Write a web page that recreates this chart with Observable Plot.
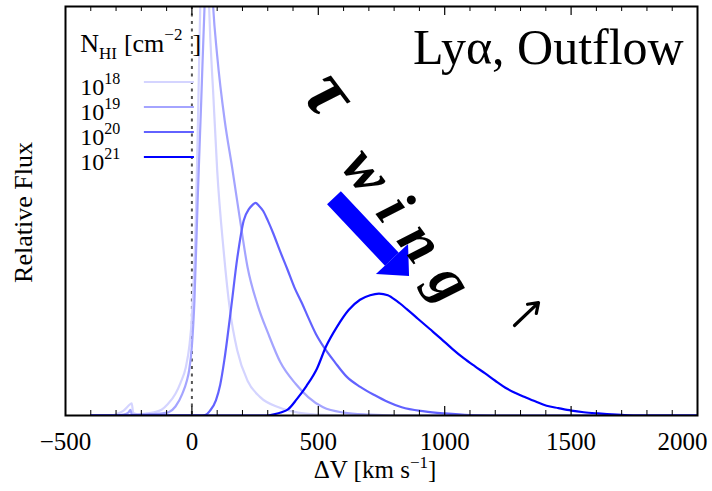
<!DOCTYPE html>
<html><head><meta charset="utf-8">
<script src="https://cdn.jsdelivr.net/npm/d3@7"></script>
<script src="https://cdn.jsdelivr.net/npm/@observablehq/plot@0.6"></script>
<style>body{margin:0;background:#fff}svg{display:block}</style>
</head><body><div id="chart"></div>
<script>
// ---- data ----
const series = ["18", "19", "20", "21"];
const colors = ["#d4d4ff", "#a4a4ff", "#6262ff", "#0000ff"];
const xTicks = [-500, 0, 500, 1000, 1500, 2000];

const v18 = [-400,-320,-300,-270,-245,-238,-232,-215,-180,-150,-120,-95,-65,-45,-24,-10,0,7,14,23,33,42,50,58,68,85,100,126,150,179,220,270,343,420,500,600,800,2000];
const f18 = [0,0,0.003,0.012,0.027,0.03,0.006,0.003,0.005,0.008,0.014,0.028,0.053,0.08,0.118,0.17,0.24,0.33,0.444,0.69,1.0,1.25,1.32,1.25,1.0,0.78,0.6,0.40,0.26,0.16,0.085,0.045,0.02,0.007,0.002,0,0,0];

const v19 = [-400,-300,-270,-250,-243,-238,-220,-180,-140,-110,-92,-65,-38,-20,-11,0,10,23,37,50,60,68,76,84,100,130,159,190,220,260,302,350,411,460,519,600,700,800,2000];
const f19 = [0,0,0.002,0.008,0.014,0.003,0.002,0.003,0.004,0.006,0.008,0.022,0.053,0.085,0.11,0.17,0.28,0.53,0.77,1.0,1.12,1.15,1.1,1.0,0.88,0.72,0.607,0.48,0.363,0.27,0.2,0.13,0.077,0.045,0.02,0.007,0.002,0,0];

const v20 = [-400,0,40,55,72,95,112,128,154,180,205,226,240,252,265,282,300,322,348,378,405,435,460,490,522,566,612,666,722,776,830,920,1000,1100,1200,2000];
const f20 = [0,0,0,0.002,0.012,0.037,0.075,0.134,0.257,0.387,0.477,0.505,0.515,0.52,0.513,0.5,0.477,0.445,0.403,0.357,0.314,0.275,0.24,0.2,0.167,0.13,0.095,0.07,0.05,0.033,0.02,0.01,0.005,0.001,0,0];

const v21 = [-400,295,325,355,380,415,453,495,530,575,620,665,705,740,775,810,850,895,940,985,1030,1075,1120,1160,1200,1240,1280,1321,1360,1403,1450,1501,1550,1607,1680,1745,2000];
const f21 = [0,0,0.003,0.008,0.015,0.04,0.072,0.115,0.168,0.218,0.258,0.283,0.294,0.298,0.294,0.28,0.26,0.236,0.212,0.188,0.163,0.14,0.12,0.103,0.085,0.068,0.055,0.044,0.034,0.024,0.018,0.012,0.008,0.005,0.002,0,0];

// ---- build table ----
const vs = [v18, v19, v20, v21], fs = [f18, f19, f20, f21];
const rows = [];
series.forEach((s, i) => vs[i].forEach((v, j) => rows.push({v, f: fs[i][j], s})));

const majorTicks = [0, 500, 1000, 1500];
const minorTicks = d3.range(-400, 2000, 100).filter(d => d % 500 !== 0);

const W = 712, H = 491, mT = 6, mB = 76, mL = 65, mR = 15;
const ph = H - mT - mB;
const tk = px => px / ph;
const fmt = d => d < 0 ? "\u2212" + Math.abs(d) : String(d);

const plot = Plot.plot({
  width: W, height: H,
  marginTop: mT, marginBottom: mB, marginLeft: mL, marginRight: mR,
  style: {fontFamily: "Liberation Serif, Times New Roman, serif", background: "#fff", color: "#000"},
  x: {domain: [-500, 2000]},
  y: {domain: [0, 1], axis: null},
  color: {domain: series, range: colors},
  marks: [
    Plot.ruleX([0], {stroke: "#555", strokeWidth: 2, strokeDasharray: "3,4.5"}),
    Plot.line(rows, {x: "v", y: "f", z: "s", stroke: "s", strokeWidth: 2.2, curve: "monotone-x", clip: true}),
    // inner ticks
    Plot.ruleX(majorTicks, {y1: 0, y2: tk(9), stroke: "#000", strokeWidth: 1.2}),
    Plot.ruleX(minorTicks, {y1: 0, y2: tk(5), stroke: "#000", strokeWidth: 1}),
    Plot.ruleX(majorTicks, {y1: 1, y2: 1 - tk(9), stroke: "#000", strokeWidth: 1.2}),
    Plot.ruleX(minorTicks, {y1: 1, y2: 1 - tk(5), stroke: "#000", strokeWidth: 1}),
    Plot.frame({stroke: "#000", strokeWidth: 2}),
    Plot.axisX(xTicks.slice(0, -1), {tickSize: 0, tickPadding: 17, fontSize: 25, label: null, tickFormat: fmt}),
    Plot.text(xTicks.slice(-1), {x: d => d, frameAnchor: "bottom", text: fmt, dy: 34, dx: 10, textAnchor: "end", fontSize: 25}),
    // small black arrow
    Plot.arrow([{x1: 1276, y1: 0.22, x2: 1371, y2: 0.276}], {x1: "x1", y1: "y1", x2: "x2", y2: "y2", stroke: "#000", strokeWidth: 3.2, headLength: 13, headAngle: 70})
  ]
});

document.getElementById("chart").appendChild(plot);

const svg = d3.select(plot);
const X = v => plot.scale("x").apply(v);
const Y = f => plot.scale("y").apply(f);
const FONT = "Liberation Serif, Times New Roman, serif";

function rich(x, y, parts, size, anchor) {
  const t = svg.append("text").attr("x", x).attr("y", y)
    .attr("text-anchor", anchor || "start")
    .attr("font-family", FONT).attr("font-size", size).attr("fill", "#000");
  let cur = 0;
  parts.forEach(([txt, shift, fsz, dx]) => {
    const sp = t.append("tspan").text(txt).attr("dy", shift - cur);
    if (fsz) sp.attr("font-size", fsz);
    if (dx) sp.attr("dx", dx);
    cur = shift;
  });
  return t;
}

// blue arrow (data coords)
const shaft = [[564, 0.531], [793, 0.381]];
const head = [[861, 0.34], [730, 0.345], [857, 0.418]];
svg.append("line").attr("x1", X(shaft[0][0])).attr("y1", Y(shaft[0][1]))
  .attr("x2", X(shaft[1][0])).attr("y2", Y(shaft[1][1]))
  .attr("stroke", "#0000ff").attr("stroke-width", 19);
svg.append("path").attr("d", "M" + head.map(p => X(p[0]) + "," + Y(p[1])).join("L") + "Z")
  .attr("fill", "#0000ff");

// tau wing text
const tw = [430, 0.785];
const twt = svg.append("text").attr("transform", `translate(${X(tw[0])},${Y(tw[1])}) rotate(53)`)
  .attr("text-anchor", "start")
  .attr("font-family", FONT).attr("font-weight", "bold").attr("font-style", "italic")
  .attr("font-size", 60).attr("letter-spacing", 18);
twt.append("tspan").attr("font-size", 78).text("τ");
twt.append("tspan").attr("dy", 12).attr("dx", -4).text(" wing");

// title
rich(X(877), Y(0.857), [["Lyα, Outflow", 0]], 50);

// legend
rich(X(-440), Y(0.888), [["N", 0], ["HI", 7, 17], ["[cm", 0, null, 7], ["−2", -12, 17], ["]", 0, null, 10]], 26);
const legY = [0.814, 0.753, 0.692, 0.631];
series.forEach((s, i) => {
  svg.append("line").attr("x1", X(-188)).attr("x2", X(10)).attr("y1", Y(legY[i])).attr("y2", Y(legY[i]))
    .attr("stroke", colors[i]).attr("stroke-width", 2);
  rich(X(-440), Y(legY[i]) + 13, [["10", 0], [s, -11, 16]], 24);
});

// axis labels
rich((mL + W - mR) / 2 - 6, 478, [["ΔV [km s", 0], ["−1", -10, 17], ["]", 0]], 25, "middle");
svg.append("text").attr("transform", `translate(32,${(mT + H - mB) / 2 + 2}) rotate(-90)`)
  .attr("text-anchor", "middle").attr("font-family", FONT).attr("font-size", 26).text("Relative Flux");
</script></body></html>
